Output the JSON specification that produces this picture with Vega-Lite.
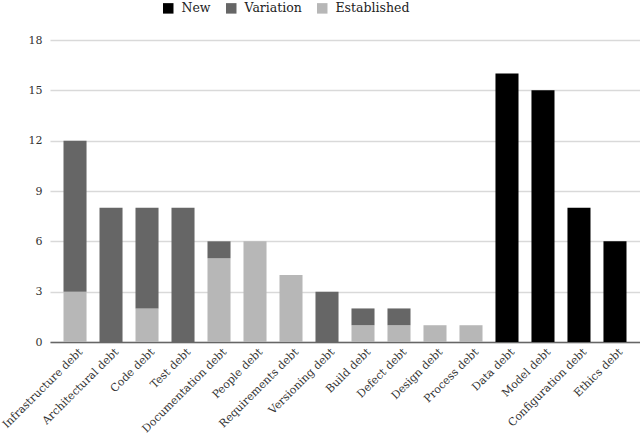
{
  "$schema": "https://vega.github.io/schema/vega-lite/v6.json",
  "autosize": "none",
  "width": 590,
  "height": 302,
  "padding": {"left": 50, "top": 40, "right": 0, "bottom": 100},
  "background": "white",
  "config": {
    "view": {"stroke": null},
    "font": "DejaVu Serif",
    "axis": {"labelFont": "DejaVu Serif", "labelColor": "#333333", "labelFontSize": 11},
    "legend": {"labelFont": "DejaVu Serif", "labelFontSize": 12.5, "labelColor": "#222222"}
  },
  "data": {
    "values": [
      {"category": "Infrastructure debt", "type": "Established", "count": 3},
      {"category": "Infrastructure debt", "type": "Variation", "count": 9},
      {"category": "Architectural debt", "type": "Variation", "count": 8},
      {"category": "Code debt", "type": "Established", "count": 2},
      {"category": "Code debt", "type": "Variation", "count": 6},
      {"category": "Test debt", "type": "Variation", "count": 8},
      {"category": "Documentation debt", "type": "Established", "count": 5},
      {"category": "Documentation debt", "type": "Variation", "count": 1},
      {"category": "People debt", "type": "Established", "count": 6},
      {"category": "Requirements debt", "type": "Established", "count": 4},
      {"category": "Versioning debt", "type": "Variation", "count": 3},
      {"category": "Build debt", "type": "Established", "count": 1},
      {"category": "Build debt", "type": "Variation", "count": 1},
      {"category": "Defect debt", "type": "Established", "count": 1},
      {"category": "Defect debt", "type": "Variation", "count": 1},
      {"category": "Design debt", "type": "Established", "count": 1},
      {"category": "Process debt", "type": "Established", "count": 1},
      {"category": "Data debt", "type": "New", "count": 16},
      {"category": "Model debt", "type": "New", "count": 15},
      {"category": "Configuration debt", "type": "New", "count": 8},
      {"category": "Ethics debt", "type": "New", "count": 6}
    ]
  },
  "mark": {"type": "bar"},
  "encoding": {
    "x": {
      "field": "category",
      "type": "nominal",
      "sort": null,
      "scale": {"paddingInner": 0.36, "paddingOuter": 0.375},
      "axis": {
        "title": null,
        "labelAngle": -45,
        "labelAlign": "right",
        "labelBaseline": "middle",
        "labelPadding": 8,
        "labelOffset": 6,
        "ticks": false,
        "domainColor": "#666666",
        "domainWidth": 1.5,
        "grid": false
      }
    },
    "y": {
      "field": "count",
      "type": "quantitative",
      "stack": "zero",
      "scale": {"domain": [0, 18], "nice": false},
      "axis": {
        "title": null,
        "values": [0, 3, 6, 9, 12, 15, 18],
        "domain": false,
        "ticks": false,
        "labelPadding": 8,
        "gridColor": "#d9d9d9",
        "gridWidth": 1.5
      }
    },
    "color": {
      "field": "type",
      "type": "nominal",
      "scale": {"domain": ["New", "Variation", "Established"], "range": ["#000000", "#666666", "#b7b7b7"]},
      "legend": {
        "title": null,
        "orient": "none",
        "direction": "horizontal",
        "legendX": 112,
        "legendY": -38,
        "symbolType": "square",
        "symbolSize": 110,
        "symbolStrokeWidth": 0,
        "symbolOpacity": 1,
        "columnPadding": 14,
        "labelOffset": 7
      }
    },
    "order": {"field": "type", "sort": "ascending"}
  }
}
